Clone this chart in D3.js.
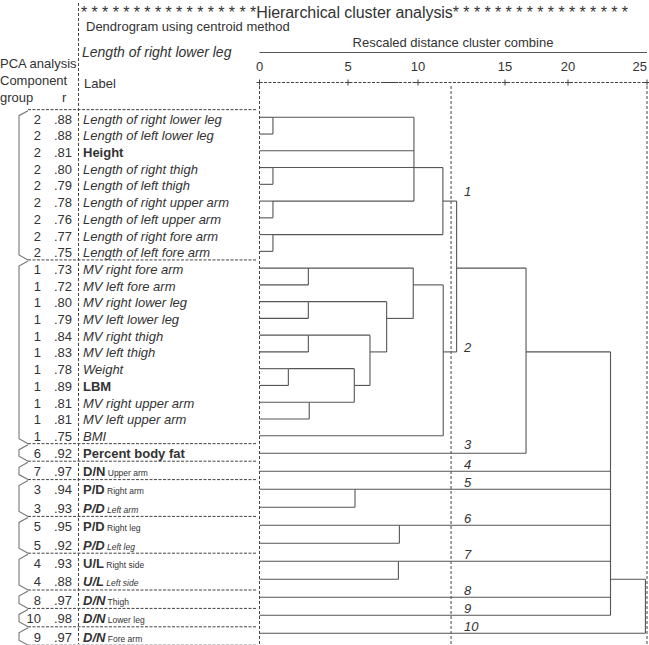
<!DOCTYPE html>
<html>
<head>
<meta charset="utf-8">
<script src="https://cdn.jsdelivr.net/npm/d3@7"></script>
<style>
  body { margin: 0; background: #fff; }
  svg { display: block; font-family: Arial, "Liberation Sans", sans-serif; }
</style>
</head>
<body>
<svg id="chart" width="649" height="645"></svg>
<script>
// rows, top to bottom
const groupNo = [2,2,2,2,2,2,2,2,2, 1,1,1,1,1,1,1,1,1,1,1, 6,7,3,3,5,5,4,4,8,10,9];
const rValues = [".88",".88",".81",".80",".79",".78",".76",".77",".75",
  ".73",".72",".80",".79",".84",".83",".78",".89",".81",".81",".75",
  ".92",".97",".94",".93",".95",".92",".93",".88",".97",".98",".97"];
const labels = ["Length of right lower leg","Length of left lower leg","Height",
  "Length of right thigh","Length of left thigh","Length of right upper arm",
  "Length of left upper arm","Length of right fore arm","Length of left fore arm",
  "MV right fore arm","MV left fore arm","MV right lower leg","MV left lower leg",
  "MV right thigh","MV left thigh","Weight","LBM","MV right upper arm",
  "MV left upper arm","BMI","Percent body fat",
  "D/N","P/D","P/D","P/D","P/D","U/L","U/L","D/N","D/N","D/N"];
const labelSubs = ["","","","","","","","","","","","","","","","","","","","","",
  "Upper arm","Right arm","Left arm","Right leg","Left leg","Right side","Left side",
  "Thigh","Lower leg","Fore arm"];
// i = italic, b = bold
const labelStyles = ["i","i","b","i","i","i","i","i","i",
  "i","i","i","i","i","i","i","b","i","i","i",
  "b","b","b","bi","b","bi","b","bi","bi","bi","bi"];
const subStyles = ["","","","","","","","","","","","","","","","","","","","","",
  "","","i","","i","","i","","",""];

// PCA groups (first row, last row)
const groups = [[0,8],[9,19],[20,20],[21,21],[22,23],[24,25],[26,27],[28,28],[29,29],[30,30]];

// rescaled distance axis
const distTicks = [0,5,10,15,20,25];
const cutDistance = 11.9;

// merges: kids are leaf rows (numbers) or merge ids; out = row the merged line leaves from
const merges = [
  {id:"a1", d:0.76, kids:[0,1], out:0},
  {id:"a2", d:0.76, kids:[3,4], out:3},
  {id:"a3", d:0.76, kids:[5,6], out:5},
  {id:"a4", d:0.76, kids:[7,8], out:7},
  {id:"a5", d:9.71, kids:["a1",2,"a3"], out:3},
  {id:"a6", d:11.43, kids:["a2","a5","a4"], out:5},
  {id:"b1", d:2.76, kids:[9,10], out:9},
  {id:"b2", d:2.76, kids:[11,12], out:11},
  {id:"b3", d:2.76, kids:[13,14], out:13},
  {id:"b4", d:1.63, kids:[15,16], out:15},
  {id:"b5", d:2.81, kids:[17,18], out:17},
  {id:"b6", d:5.45, kids:["b4","b5"], out:16},
  {id:"b7", d:6.57, kids:["b3","b6"], out:14},
  {id:"b8", d:7.76, kids:["b2","b7"], out:12},
  {id:"b9", d:9.66, kids:["b1","b8"], out:10},
  {id:"b10", d:11.45, kids:["b9",19], out:14},
  {id:"c1", d:12.22, kids:["a6","b10"], out:9},
  {id:"c2", d:16.67, kids:["c1",20], out:14},
  {id:"d1", d:5.5, kids:[22,23], out:22},
  {id:"d2", d:8.67, kids:[24,25], out:24},
  {id:"d3", d:8.6, kids:[26,27], out:26},
  {id:"e1", d:22.69, kids:["c2",21,"d1","d2","d3",28,29], out:27},
  {id:"e2", d:24.9, kids:["e1",30], out:27}
];

// cluster numbers and the row they sit at
const clusterNames = ["1","2","3","4","5","6","7","8","9","10"];
const clusterRows = [4.4,13.7,19.5,20.6,21.6,23.6,25.6,27.6,28.6,29.6];

const svg = d3.select("#chart");
const ink = "#333", lineCol = "#555", dashCol = "#444";

const x = d3.scaleLinear().domain(distTicks).range([259.5,348,418,505,568,647]);
const treeY = d3.scaleLinear().domain([0,19,20,30]).range([117.3,435.7,453.3,633.3]);
const rowY = d3.scaleLinear().domain([0,20,30]).range([119,453,637]);

// ---- header texts
svg.append("text").attr("x", 81).attr("y", 17.5)
  .attr("font-size", 16).attr("fill", ink)
  .attr("textLength", 547).attr("lengthAdjust", "spacing")
  .text("* ".repeat(16) + "*Hierarchical cluster analysis*" + " *".repeat(16));

svg.append("text").attr("x", 86).attr("y", 31).attr("font-size", 13).attr("fill", ink)
  .text("Dendrogram using centroid method");
svg.append("text").attr("x", 82).attr("y", 57).attr("font-size", 14)
  .attr("font-style", "italic").attr("fill", ink)
  .text("Length of right lower leg");
svg.append("text").attr("x", 84).attr("y", 88).attr("font-size", 13).attr("fill", ink).text("Label");

[["PCA analysis", 68], ["Component", 85], ["group", 102]].forEach(([t, y]) => {
  svg.append("text").attr("x", 0).attr("y", y).attr("font-size", 13).attr("fill", ink).text(t);
});
svg.append("text").attr("x", 62).attr("y", 102).attr("font-size", 13).attr("fill", ink).text("r");

// ---- distance axis
svg.append("text").attr("x", 453).attr("y", 47).attr("text-anchor", "middle")
  .attr("font-size", 13).attr("fill", ink).text("Rescaled distance cluster combine");
svg.append("line").attr("x1", x(0)).attr("x2", x(25)).attr("y1", 52.5).attr("y2", 52.5)
  .attr("stroke", lineCol).attr("stroke-width", 1.2);

svg.selectAll(".tickLab").data(distTicks).join("text")
  .attr("x", d => d === 25 ? x(d) : x(d))
  .attr("y", 71).attr("font-size", 13).attr("fill", ink)
  .attr("text-anchor", d => d === 25 ? "end" : "middle")
  .text(d => d);

svg.append("line").attr("x1", x(0)).attr("x2", x(25)).attr("y1", 82.5).attr("y2", 82.5)
  .attr("stroke", dashCol).attr("stroke-dasharray", "3,1.5");
svg.append("line").attr("x1", x(7.4)).attr("x2", x(8.6)).attr("y1", 82.5).attr("y2", 82.5)
  .attr("stroke", dashCol);
const plus = svg.append("g").attr("stroke", dashCol);
distTicks.forEach(d => {
  plus.append("line").attr("x1", x(d) - 3).attr("x2", x(d) + 3).attr("y1", 82.5).attr("y2", 82.5);
  plus.append("line").attr("x1", x(d)).attr("x2", x(d)).attr("y1", 79.5).attr("y2", 85.5);
});

// ---- vertical dashed guides
const guides = svg.append("g").attr("stroke", dashCol).attr("stroke-dasharray", "3,2");
guides.append("line").attr("x1", 78.5).attr("x2", 78.5).attr("y1", 3).attr("y2", 644);
[0, cutDistance, 25].forEach(d => {
  guides.append("line").attr("x1", x(d)).attr("x2", x(d)).attr("y1", 86).attr("y2", 644);
});

// ---- group separators and brackets
const sepRows = [-0.5].concat(groups.map(g => g[1] + 0.5));
svg.append("g").selectAll("line").data(sepRows).join("line")
  .attr("x1", 28).attr("x2", 256)
  .attr("y1", d => rowY(d) - 1).attr("y2", d => rowY(d) - 1)
  .attr("stroke", dashCol).attr("stroke-dasharray", "3,1.5");

svg.append("g").selectAll("path").data(groups).join("path")
  .attr("fill", "none").attr("stroke", "#777").attr("stroke-width", 1.1)
  .attr("d", g => {
    const t = rowY(g[0] - 0.5) - 1, b = rowY(g[1] + 0.5) - 1;
    return `M28,${t + 1}L19,${t + 6}L19,${b - 5}L28,${b}`;
  });

// ---- row texts
const rows = d3.range(labels.length);
svg.append("g").selectAll("text").data(rows).join("text")
  .attr("x", 41).attr("y", i => rowY(i)).attr("dy", "0.36em")
  .attr("text-anchor", "end").attr("font-size", 13).attr("fill", ink)
  .text(i => groupNo[i]);
svg.append("g").selectAll("text").data(rows).join("text")
  .attr("x", 72).attr("y", i => rowY(i)).attr("dy", "0.36em")
  .attr("text-anchor", "end").attr("font-size", 13).attr("fill", ink)
  .text(i => rValues[i]);

const lab = svg.append("g").selectAll("text").data(rows).join("text")
  .attr("x", 83).attr("y", i => rowY(i)).attr("dy", "0.36em")
  .attr("font-size", 13).attr("fill", ink);
lab.append("tspan")
  .attr("font-weight", i => labelStyles[i].includes("b") ? "bold" : "normal")
  .attr("font-style", i => labelStyles[i].includes("i") ? "italic" : "normal")
  .text(i => labels[i]);
lab.filter(i => labelSubs[i]).append("tspan")
  .attr("font-size", 8.5)
  .attr("font-style", i => subStyles[i] === "i" ? "italic" : "normal")
  .text(i => " " + labelSubs[i]);

// ---- dendrogram
const byId = new Map(merges.map(m => [m.id, m]));
const kidOut = k => typeof k === "number" ? {row: k, d: 0} : {row: byId.get(k).out, d: byId.get(k).d};
const tree = svg.append("g").attr("stroke", lineCol).attr("stroke-width", 1.1).attr("fill", "none");
merges.forEach(m => {
  const outs = m.kids.map(kidOut);
  const rs = outs.map(o => o.row);
  tree.append("line")
    .attr("x1", x(m.d)).attr("x2", x(m.d))
    .attr("y1", treeY(d3.min(rs))).attr("y2", treeY(d3.max(rs)));
  outs.forEach(o => {
    tree.append("line")
      .attr("x1", x(o.d)).attr("x2", x(m.d))
      .attr("y1", treeY(o.row)).attr("y2", treeY(o.row));
  });
});

// ---- cluster numbers
svg.append("g").selectAll("text").data(clusterNames).join("text")
  .attr("x", 464).attr("y", (d, i) => treeY(clusterRows[i])).attr("dy", "0.36em")
  .attr("font-size", 13).attr("font-style", "italic").attr("fill", ink)
  .text(d => d);
</script>
</body>
</html>
